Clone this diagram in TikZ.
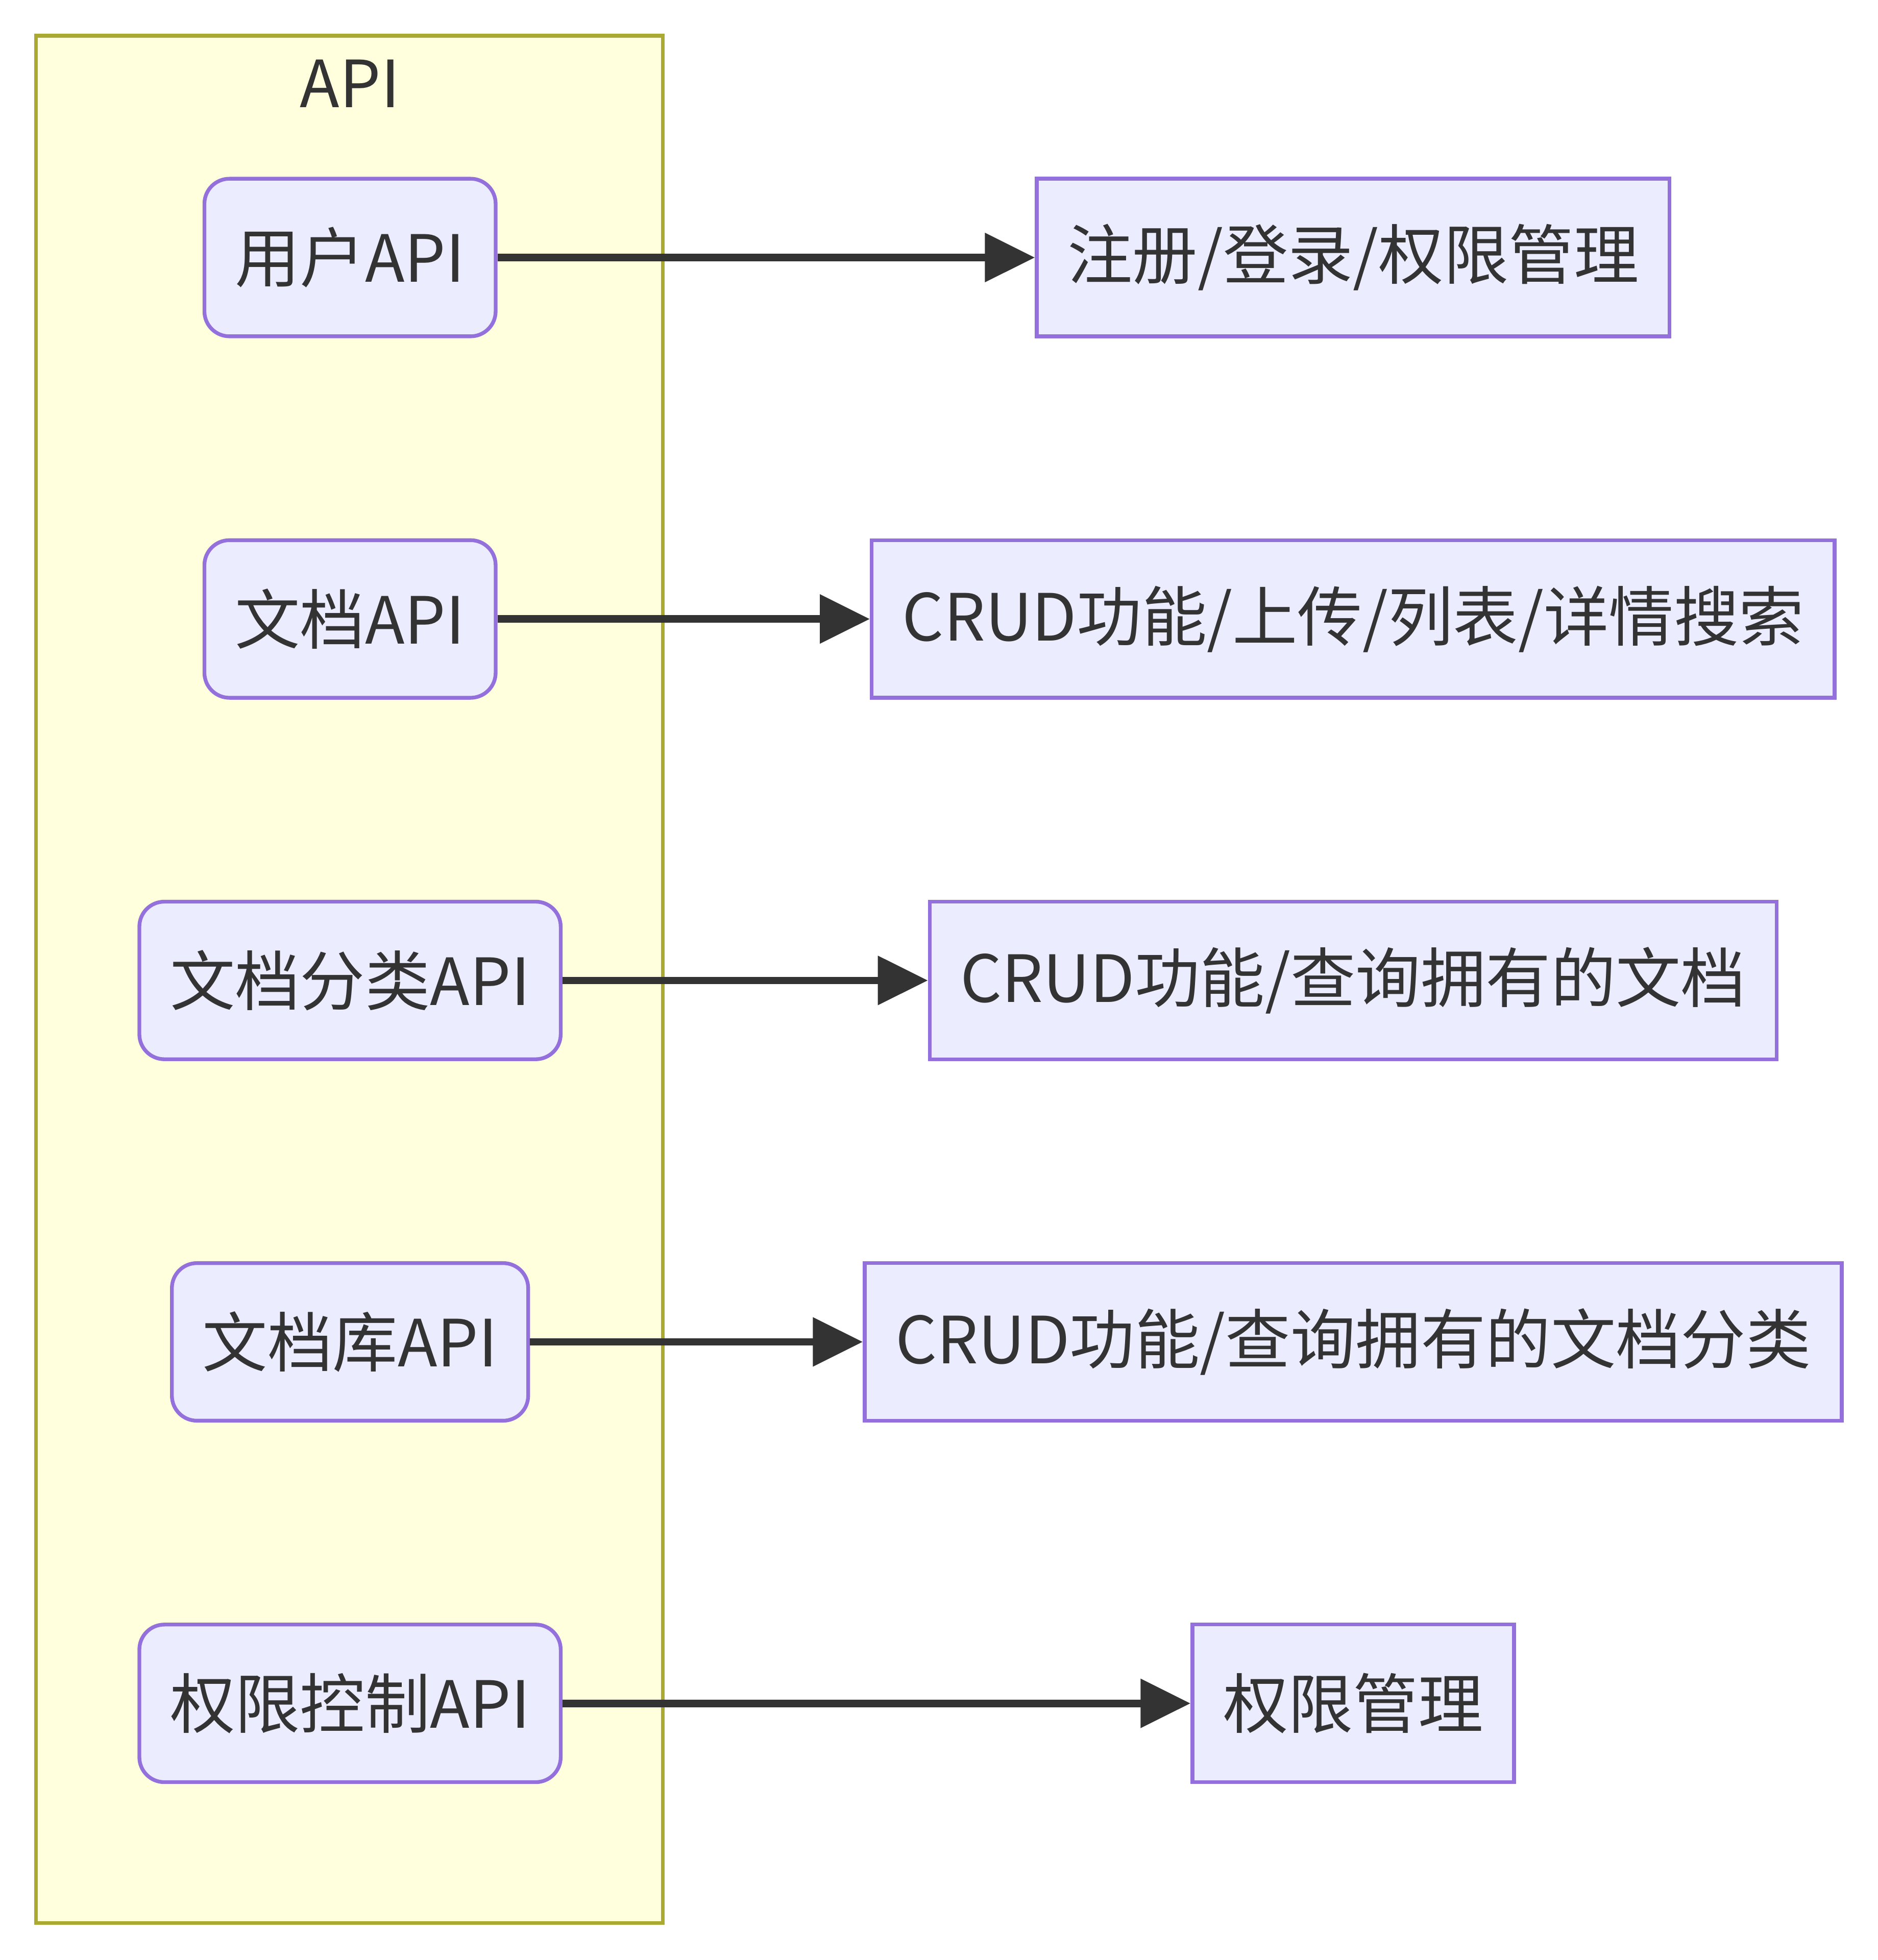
\documentclass[tikz,border=0pt]{standalone}
\usepackage{fontspec}
\setmainfont{Noto Sans CJK SC}
\usepackage{tikz}
\usetikzlibrary{arrows.meta}
\definecolor{nodefill}{HTML}{ECECFF}
\definecolor{nodeline}{HTML}{9370DB}
\definecolor{groupfill}{HTML}{FFFFDE}
\definecolor{groupline}{HTML}{AAAA33}
\definecolor{inkgray}{HTML}{333333}
\tikzstyle{group} = [rectangle, minimum width=5.01cm, minimum height=15.09cm, inner sep=0pt, draw=groupline, fill=groupfill, line width=0.03cm]
\tikzstyle{title} = [text=inkgray, inner sep=0pt]
\tikzstyle{apinode} = [rectangle, rounded corners=0.2cm, minimum height=1.26cm, inner xsep=0.245cm, text centered, draw=nodeline, fill=nodefill, line width=0.03cm, text=inkgray]
\tikzstyle{funcnode} = [rectangle, minimum height=1.26cm, inner xsep=0.245cm, text centered, draw=nodeline, fill=nodefill, line width=0.03cm, text=inkgray]
\tikzstyle{arrow} = [line width=0.06cm, draw=inkgray, -{Triangle[length=0.4cm,width=0.38cm]}]
\begin{document}
\begin{tikzpicture}[node distance=2.89cm, x=0.01cm, y=-0.01cm, font=\fontsize{14.8pt}{18pt}\selectfont]
\useasboundingbox (0,0) rectangle (1502,1568);

\node (apigroup) [group] at (279.5,783.5) {};
\node (apititle) [title] at (280,67) {API};

\node (user) [apinode] at (280,206) {用户API};
\node (doc) [apinode, below of=user] {文档API};
\node (cat) [apinode, below of=doc] {文档分类API};
\node (lib) [apinode, below of=cat] {文档库API};
\node (perm) [apinode, below of=lib] {权限控制API};

\node (userfn) [funcnode, right of=user, xshift=5.13cm] {注册/登录/权限管理};
\node (docfn) [funcnode, right of=doc, xshift=5.13cm] {CRUD功能/上传/列表/详情搜索};
\node (catfn) [funcnode, right of=cat, xshift=5.13cm] {CRUD功能/查询拥有的文档};
\node (libfn) [funcnode, right of=lib, xshift=5.13cm] {CRUD功能/查询拥有的文档分类};
\node (permfn) [funcnode, right of=perm, xshift=5.13cm] {权限管理};

\draw [arrow] (user) -- (userfn);
\draw [arrow] (doc) -- (docfn);
\draw [arrow] (cat) -- (catfn);
\draw [arrow] (lib) -- (libfn);
\draw [arrow] (perm) -- (permfn);

\end{tikzpicture}
\end{document}
